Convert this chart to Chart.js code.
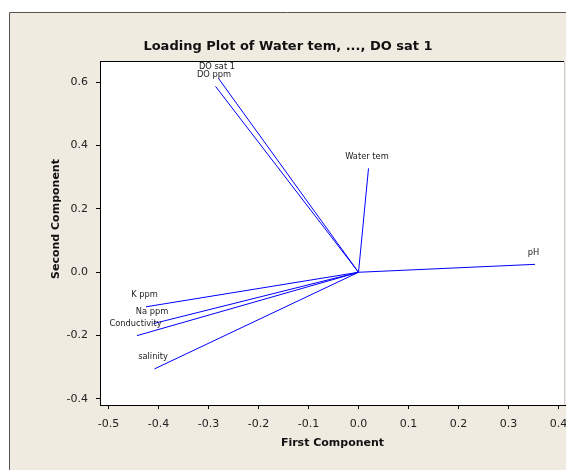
<!DOCTYPE html>
<html>
<head>
<meta charset="utf-8">
<script src="https://cdn.jsdelivr.net/npm/chart.js"></script>
<style>
  html, body { margin: 0; padding: 0; background: #fff; }
  #wrap { width: 566px; height: 470px; }
</style>
</head>
<body>
<div id="wrap"><canvas id="loading-plot" width="566" height="470"></canvas></div>
<script>
// loadings (one vector per variable, from the origin)
const variableNames = ['Water tem', 'pH', 'Conductivity', 'salinity', 'Na ppm', 'K ppm', 'DO ppm', 'DO sat 1'];
const firstComponent = [0.020, 0.353, -0.443, -0.408, -0.410, -0.425, -0.286, -0.280];
const secondComponent = [0.328, 0.025, -0.200, -0.305, -0.162, -0.109, 0.587, 0.612];

// tick labels
const xTickValues = [-0.5, -0.4, -0.3, -0.2, -0.1, 0.0, 0.1, 0.2, 0.3, 0.4];
const yTickValues = [-0.4, -0.2, 0.0, 0.2, 0.4, 0.6];

const chartTitle = 'Loading Plot of Water tem, ..., DO sat 1';
const xTitle = 'First Component';
const yTitle = 'Second Component';

const FONT = '"DejaVu Sans", Verdana, sans-serif';
const lineBlue = '#0000ff';

// one dataset per vector: origin -> loading
const vectorSets = variableNames.map((name, i) => ({
  label: name,
  data: [{ x: 0, y: 0 }, { x: firstComponent[i], y: secondComponent[i] }],
  showLine: true,
  borderColor: lineBlue,
  borderWidth: 1,
  pointRadius: 0,
  pointHoverRadius: 0,
  fill: false
}));

// frame, title, axis titles and the vector labels
const minitabLook = {
  id: 'minitabLook',
  beforeDraw(chart) {
    const ctx = chart.ctx;
    const a = chart.chartArea;
    ctx.save();
    ctx.fillStyle = '#ffffff';
    ctx.fillRect(0, 0, chart.width, chart.height);
    ctx.fillStyle = '#efebe1';
    ctx.fillRect(9, 12, chart.width - 9, chart.height - 12);
    ctx.strokeStyle = '#555555';
    ctx.lineWidth = 1;
    ctx.beginPath();
    ctx.moveTo(9.5, chart.height);
    ctx.lineTo(9.5, 12.5);
    ctx.lineTo(chart.width, 12.5);
    ctx.stroke();
    ctx.fillStyle = '#ffffff';
    ctx.fillRect(a.left, a.top, a.right - a.left, a.bottom - a.top);
    ctx.restore();
  },
  afterDraw(chart) {
    const ctx = chart.ctx;
    const a = chart.chartArea;
    const xs = chart.scales.x;
    const ys = chart.scales.y;
    ctx.save();
    // plot box: dark top, light right
    ctx.lineWidth = 1;
    ctx.strokeStyle = '#000000';
    ctx.beginPath();
    ctx.moveTo(a.left, a.top + 0.5);
    ctx.lineTo(a.right, a.top + 0.5);
    ctx.stroke();
    ctx.strokeStyle = '#cfcfcf';
    ctx.beginPath();
    ctx.moveTo(a.right - 0.5, a.top);
    ctx.lineTo(a.right - 0.5, a.bottom);
    ctx.stroke();

    ctx.fillStyle = '#111111';
    ctx.textAlign = 'center';
    ctx.textBaseline = 'middle';
    ctx.font = 'bold 13px ' + FONT;
    ctx.fillText(chartTitle, 288, 47);

    ctx.font = 'bold 11px ' + FONT;
    ctx.fillText(xTitle, (a.left + a.right) / 2, 443);
    ctx.save();
    ctx.translate(56, 219);
    ctx.rotate(-Math.PI / 2);
    ctx.fillText(yTitle, 0, 0);
    ctx.restore();

    ctx.font = '8.3px ' + FONT;
    ctx.fillStyle = '#222222';
    variableNames.forEach((name, i) => {
      const px = xs.getPixelForValue(firstComponent[i]) - 1.5;
      const py = ys.getPixelForValue(secondComponent[i]) - 12;
      ctx.fillText(name, px, py);
    });
    ctx.restore();
  }
};

const tickFont = { family: FONT, size: 11 };

new Chart(document.getElementById('loading-plot'), {
  type: 'scatter',
  data: { datasets: vectorSets },
  options: {
    responsive: false,
    animation: false,
    devicePixelRatio: 1,
    layout: { padding: { top: 61, right: 1, left: 0, bottom: 0 } },
    plugins: {
      legend: { display: false },
      title: { display: false },
      tooltip: { enabled: false }
    },
    scales: {
      x: {
        type: 'linear',
        min: -0.517,
        max: 0.413,
        afterBuildTicks: (s) => { s.ticks = xTickValues.map(v => ({ value: v })); },
        afterFit: (s) => { s.height = 65; s.paddingLeft = 0; s.paddingRight = 0; },
        ticks: {
          font: tickFont,
          color: '#222222',
          padding: 9,
          maxRotation: 0,
          callback: (v) => Number(v).toFixed(1)
        },
        grid: { drawOnChartArea: false, drawTicks: true, tickLength: 4, color: '#000000' },
        border: { color: '#000000' }
      },
      y: {
        type: 'linear',
        min: -0.419,
        max: 0.667,
        afterBuildTicks: (s) => { s.ticks = yTickValues.map(v => ({ value: v })); },
        afterFit: (s) => { s.width = 100; s.paddingTop = 0; s.paddingBottom = 0; },
        ticks: {
          font: tickFont,
          color: '#222222',
          padding: 8,
          callback: (v) => Number(v).toFixed(1)
        },
        grid: { drawOnChartArea: false, drawTicks: true, tickLength: 4, color: '#000000' },
        border: { color: '#000000' }
      }
    }
  },
  plugins: [minitabLook]
});
</script>
</body>
</html>
